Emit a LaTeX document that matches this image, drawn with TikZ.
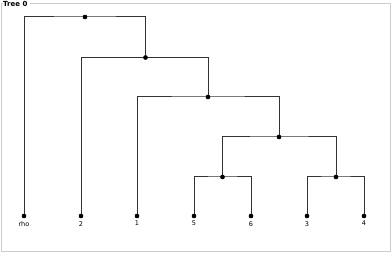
\documentclass[tikz,border=0pt]{standalone}
\usepackage{fontspec}
\setmainfont{DejaVu Sans}
\begin{document}
\begin{tikzpicture}[x=1pt,y=-1pt,
  edge/.style={draw=black!80,line width=1pt},
  dot/.style={circle,fill=black,inner sep=0pt,minimum size=4.5pt},
  lbl/.style={font=\fontsize{6.5}{7}\selectfont,inner sep=0pt}]
\useasboundingbox (0,0) rectangle (392,253);
% frame
\node[font=\bfseries\fontsize{7}{8}\selectfont,inner sep=0pt,anchor=west] (title) at (3,3.5) {Tree 0};
\draw[black!20,line width=0.9pt] (title.east) ++(2,0) -- (390.5,3.5) -- (390.5,251.5) -- (1.5,251.5) -- (1.5,3.5) -- (2.5,3.5);
% internal nodes
\node[dot] (n0) at (85,17) {};
\node[dot] (n1) at (145.5,57.5) {};
\node[dot] (n2) at (208,97) {};
\node[dot] (n3) at (279,137) {};
\node[dot] (n4) at (222.5,177) {};
\node[dot] (n5) at (336,177) {};
% leaves
\node[dot] (rho) at (24,216) {};
\node[dot] (l2) at (81,216) {};
\node[dot] (l1) at (137,216) {};
\node[dot] (l5) at (194,216) {};
\node[dot] (l6) at (251,216) {};
\node[dot] (l3) at (307,216) {};
\node[dot] (l4) at (364,216) {};
\foreach \n/\t in {rho/rho,l2/2,l1/1,l5/5,l6/6,l3/3,l4/4}
  \node[lbl,anchor=north] (t\n) at ([yshift=-5pt]\n.center) {\t};
% edges
\draw[edge] (rho.center) |- (n0.center) -| (n1.center);
\draw[edge] (l2.center) |- (n1.center) -| (n2.center);
\draw[edge] (l1.center) |- (n2.center) -| (n3.center);
\draw[edge] (n4.center) |- (n3.center) -| (n5.center);
\draw[edge] (l5.center) |- (n4.center) -| (l6.center);
\draw[edge] (l3.center) |- (n5.center) -| (l4.center);
% redraw dots on top
\foreach \n in {n0,n1,n2,n3,n4,n5,rho,l2,l1,l5,l6,l3,l4}
  \fill (\n.center) circle (2.2pt);
\end{tikzpicture}
\end{document}
